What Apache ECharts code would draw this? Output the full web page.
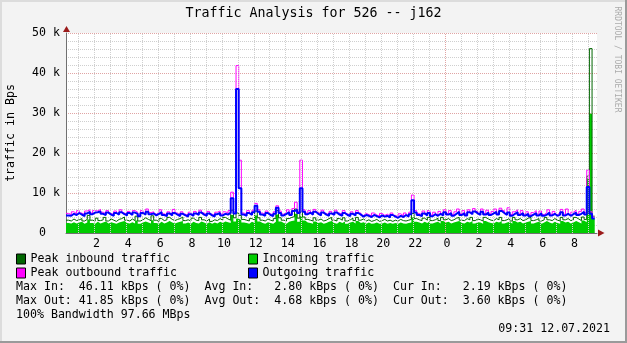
<!DOCTYPE html>
<html><head><meta charset="utf-8">
<script src="https://cdn.jsdelivr.net/npm/echarts@6/dist/echarts.min.js"></script>
<style>html,body{margin:0;padding:0;background:#f3f3f3}#c{width:627px;height:343px}</style>
</head><body><div id="c"></div>
<script>
// time axis in hours since midnight of day 1; one sample every 10 minutes
const startHour = 0.22;
const stepHour = 1 / 6;

// values in kBps
const incoming = [
2.5,2.4,2.7,2.4,2.6,2.8,2.3,2.6,3.4,2.5,2.3,2.8,2.4,2.6,2.9,2.4,2.7,2.5,2.3,2.6,
2.8,3.0,2.5,2.4,2.7,2.4,3.1,2.3,2.6,2.9,2.6,2.4,3.2,2.5,2.3,2.8,2.4,2.6,3.0,2.6,
2.4,2.6,2.8,3.0,2.4,2.6,2.3,2.8,2.5,2.4,2.9,2.6,2.3,2.7,2.3,2.6,2.4,2.8,2.5,2.9,
2.7,2.5,4.5,2.9,3.6,3.2,2.6,2.5,2.3,2.8,2.5,4.4,2.9,2.5,2.3,2.7,2.5,2.3,2.8,4.6,
2.9,2.5,2.3,2.8,3.0,3.1,4.8,2.8,4.2,3.1,2.6,2.5,2.3,2.9,2.5,2.7,2.3,2.5,2.8,3.0,
2.5,2.3,2.8,2.5,2.9,2.3,2.6,2.8,2.4,3.0,2.5,2.7,2.3,2.6,2.3,2.4,2.6,2.3,2.4,2.6,
2.3,2.5,2.3,2.5,2.3,2.6,2.4,2.3,2.5,2.6,3.9,2.8,2.6,2.4,2.8,2.5,3.0,2.4,2.6,2.8,
2.4,3.0,2.6,2.8,2.4,2.6,2.8,3.0,2.5,2.4,2.8,2.6,3.0,2.4,2.7,2.6,2.3,3.0,2.7,2.5,
2.4,2.8,2.6,3.0,2.4,2.6,2.8,2.3,3.0,2.6,2.8,2.4,2.6,2.8,3.0,2.4,2.6,2.8,2.3,2.6,
3.0,2.6,2.4,2.8,2.5,2.3,3.0,2.6,2.8,2.4,2.6,3.0,2.7,2.4,3.1,2.7,13.6,29.8,3.6
];
const peakIn = [
3.2,3.0,3.5,3.1,3.3,3.6,3.0,3.4,4.4,3.2,3.0,3.7,3.1,3.3,3.9,3.0,3.5,3.2,2.9,3.4,
3.6,4.0,3.2,3.0,3.5,3.1,4.2,3.0,3.3,3.8,3.4,3.1,4.3,3.2,2.9,3.6,3.1,3.3,3.9,3.4,
3.1,3.4,3.6,4.0,3.1,3.3,3.0,3.7,3.2,3.1,3.9,3.3,3.0,3.5,2.9,3.3,3.1,3.6,3.2,3.9,
3.5,3.2,5.7,3.8,5.0,4.4,3.4,3.2,3.0,3.6,3.2,5.5,3.8,3.2,3.0,3.5,3.2,3.0,3.6,5.6,
3.8,3.2,3.0,3.6,3.9,4.1,6.0,3.7,5.2,4.0,3.4,3.2,3.0,3.8,3.2,3.5,3.0,3.2,3.6,3.9,
3.2,3.0,3.6,3.2,3.8,3.0,3.3,3.7,3.1,3.9,3.2,3.5,3.0,3.3,2.9,3.1,3.4,2.9,3.1,3.4,
3.0,3.2,2.9,3.2,3.0,3.4,3.1,3.0,3.2,3.4,4.9,3.6,3.3,3.1,3.7,3.2,3.9,3.1,3.3,3.7,
3.1,3.9,3.3,3.6,3.1,3.3,3.7,3.9,3.2,3.1,3.6,3.3,3.9,3.1,3.5,3.3,3.0,3.9,3.5,3.2,
3.1,3.6,3.3,3.9,3.1,3.3,3.7,3.0,3.9,3.3,3.6,3.1,3.3,3.7,3.9,3.1,3.3,3.6,3.0,3.3,
3.9,3.3,3.1,3.6,3.2,3.0,3.9,3.3,3.6,3.1,3.3,3.9,3.5,3.1,4.0,3.4,14.2,46.1,4.2
];
const outgoing = [
4.4,4.3,4.8,4.5,5.0,4.6,4.2,4.9,5.3,4.7,5.1,5.2,5.4,4.8,4.5,5.1,4.6,4.3,5.0,4.6,
5.2,4.7,4.4,5.0,4.5,5.1,4.8,4.2,5.0,4.6,5.3,4.7,4.9,4.4,4.8,5.2,4.5,4.2,4.9,4.4,
5.0,4.6,4.2,4.8,4.4,4.1,4.7,4.3,4.9,4.5,5.1,4.6,4.3,4.9,4.4,4.1,4.7,5.0,4.4,4.8,
4.6,5.1,8.7,4.9,36.0,11.2,4.6,4.3,5.0,4.5,5.2,6.8,5.3,4.6,4.3,5.0,4.5,4.2,4.8,6.3,
5.0,4.4,4.8,5.2,4.5,5.5,5.8,5.0,11.2,5.3,4.7,5.1,4.6,5.3,4.8,4.4,5.1,4.6,4.3,4.9,
4.5,5.1,4.6,4.3,5.0,4.5,4.2,4.8,4.4,5.0,4.6,4.1,4.5,4.3,4.0,4.5,4.2,3.9,4.4,4.1,
4.3,3.9,4.5,4.1,3.8,4.3,4.0,4.5,4.1,4.7,8.2,5.1,4.5,4.2,4.9,4.4,5.0,4.2,4.7,4.3,
4.8,4.4,5.2,4.6,5.0,4.3,4.8,5.3,4.5,5.0,4.4,5.2,4.7,5.4,4.9,4.5,5.3,4.6,5.1,4.5,
4.9,5.3,4.6,5.5,5.0,4.5,5.1,4.3,4.8,5.2,4.5,5.0,4.4,4.8,4.2,4.6,5.0,4.4,4.9,4.3,
4.6,5.1,4.4,4.8,4.3,4.6,5.2,4.4,4.8,4.3,4.7,5.1,4.5,4.8,5.3,4.6,11.5,4.8,3.6
];
const peakOut = [
4.9,4.6,5.3,4.8,5.6,5.0,4.5,5.5,5.8,5.0,5.6,5.5,5.9,5.2,4.8,5.6,4.9,4.6,5.5,4.9,
5.8,5.0,4.7,5.4,4.8,5.6,5.2,4.5,5.6,4.9,6.0,5.1,5.3,4.7,5.2,5.8,4.8,4.5,5.3,4.7,
5.9,5.0,4.5,5.3,4.7,4.4,5.2,4.6,5.4,4.8,5.7,5.0,4.6,5.4,4.7,4.4,5.2,5.5,4.7,5.3,
5.0,5.6,10.2,5.3,41.85,18.2,5.0,4.6,5.6,4.8,5.7,7.4,5.8,5.0,4.6,5.5,4.8,4.5,5.3,6.8,
5.5,4.7,5.2,5.8,4.8,6.1,7.7,5.4,18.2,5.8,5.0,5.6,4.9,5.9,5.2,4.7,5.7,4.9,4.6,5.4,
4.8,5.7,5.0,4.6,5.6,4.8,4.5,5.3,4.7,5.6,5.0,4.4,4.9,4.6,4.3,5.0,4.5,4.2,4.9,4.4,
4.7,4.2,5.0,4.4,4.1,4.8,4.3,5.0,4.4,5.2,9.5,5.6,4.9,4.5,5.5,4.7,5.6,4.5,5.2,4.6,
5.4,4.7,5.8,4.9,5.6,4.6,5.3,6.0,4.8,5.6,4.7,5.8,5.1,6.1,5.4,4.8,6.0,4.9,5.7,4.8,
5.4,6.0,4.9,6.2,5.6,4.8,6.3,4.6,5.3,5.8,4.8,5.6,4.7,5.3,4.5,5.1,5.6,4.7,5.5,4.6,
5.1,5.8,4.7,5.4,4.6,5.1,5.9,4.7,6.0,4.6,5.2,5.7,4.8,5.4,6.0,5.1,15.7,5.3,4.0
];

const hourLabels = [2,4,6,8,10,12,14,16,18,20,22,24,26,28,30,32];
const gridHours = [1,2,3,4,5,6,7,8,9,10,11,12,13,14,15,16,17,18,19,20,21,22,23,24,25,26,27,28,29,30,31,32,33];
const statLines = [
  'Max In:  46.11 kBps ( 0%)  Avg In:   2.80 kBps ( 0%)  Cur In:   2.19 kBps ( 0%)',
  'Max Out: 41.85 kBps ( 0%)  Avg Out:  4.68 kBps ( 0%)  Cur Out:  3.60 kBps ( 0%)',
  '100% Bandwidth 97.66 MBps'
];
const stamp = '09:31 12.07.2021';

const MONO = 'DejaVu Sans Mono';
function toPairs(arr) {
  const out = arr.map((v, i) => [startHour + i * stepHour, v]);
  out.push([startHour + arr.length * stepHour, arr[arr.length - 1]]);
  return out;
}
const MINOR = '#cfcfcf', MAJOR = '#e0a4a4';

const chart = echarts.init(document.getElementById('c'), null, {renderer: 'canvas'});
const graphics = [
  {type:'rect', shape:{x:0,y:0,width:627,height:2}, style:{fill:'#dcdcdc'}, silent:true},
  {type:'rect', shape:{x:0,y:0,width:2,height:343}, style:{fill:'#dcdcdc'}, silent:true},
  {type:'rect', shape:{x:625,y:0,width:2,height:343}, style:{fill:'#9a9a9a'}, silent:true},
  {type:'rect', shape:{x:0,y:341,width:627,height:2}, style:{fill:'#9a9a9a'}, silent:true},
  {type:'polygon', shape:{points:[[63,32],[66.5,26],[70,32]]}, style:{fill:'#9b1b1b'}, z:100},
  {type:'polygon', shape:{points:[[598,229.5],[604.5,233],[598,236.5]]}, style:{fill:'#9b1b1b'}, z:100},
  {type:'text', x:617, y:59.5, rotation:-Math.PI/2,
   style:{text:'RRDTOOL / TOBI OETIKER', fontFamily:MONO, fontSize:8, fill:'#ababab', align:'center', verticalAlign:'middle'}},
  {type:'text', x:610, y:329, style:{text:stamp, fontFamily:MONO, fontSize:11.6, fill:'#000', align:'right', verticalAlign:'middle'}}
];
statLines.forEach((t, i) => graphics.push({type:'text', x:16, y:287 + i * 14,
  style:{text:t, fontFamily:MONO, fontSize:11.6, fill:'#000', align:'left', verticalAlign:'middle'}}));

const legendBase = {
  orient:'vertical', top:252, icon:'rect', itemWidth:9, itemHeight:10, itemGap:0, padding:0,
  selectedMode:false,
  itemStyle:{borderColor:'#000', borderWidth:1},
  textStyle:{fontFamily:MONO, fontSize:11.6, color:'#000', lineHeight:14}
};

chart.setOption({
  animation:false,
  backgroundColor:'#f3f3f3',
  title:{text:'Traffic Analysis for 526 -- j162', left:'center', top:2,
    textStyle:{fontFamily:MONO, fontSize:13.3, fontWeight:'normal', color:'#000'}},
  legend:[
    Object.assign({}, legendBase, {left:16, data:['Peak inbound traffic','Peak outbound traffic']}),
    Object.assign({}, legendBase, {left:248, data:['Incoming traffic','Outgoing traffic']})
  ],
  grid:{left:66, top:33, width:531, height:200, backgroundColor:'#fff', show:true, borderWidth:0,
    containLabel:false, outerBoundsMode:'none'},
  xAxis:{type:'value', min:startHour, max:33.53,
    axisLine:{lineStyle:{color:'#707070', width:1}},
    axisTick:{show:false}, splitLine:{show:false},
    axisLabel:{customValues:hourLabels, formatter:v => String(v % 24), fontFamily:MONO, fontSize:11.6, color:'#000', margin:5, padding:[0,0,0,4]}},
  yAxis:{type:'value', min:0, max:50, interval:2,
    name:'traffic in Bps', nameLocation:'middle', nameGap:49,
    nameTextStyle:{fontFamily:MONO, fontSize:11.6, color:'#000'},
    axisLine:{show:true, lineStyle:{color:'#707070', width:1}},
    axisTick:{show:false},
    axisLabel:{formatter:v => v % 10 === 0 ? (v === 0 ? '0  ' : v + ' k') : '', fontFamily:MONO, fontSize:11.6, color:'#000', margin:6, padding:[3,0,0,0]},
    splitLine:{show:true, lineStyle:{color:[MAJOR, MINOR, MINOR, MINOR, MINOR], type:[1,1], width:1}}},
  graphic:graphics,
  series:[
    {name:'vgrid', type:'line', data:[], z:1, silent:true,
     markLine:{silent:true, symbol:['none','none'], label:{show:false}, animation:false,
       data:gridHours.map(h => ({xAxis:h, lineStyle:{color: h % 24 === 0 ? MAJOR : MINOR, type:[1,1], width:1}}))}},
    {name:'Incoming traffic', type:'line', step:'end', data:toPairs(incoming), showSymbol:false, z:2,
     itemStyle:{color:'#00cc00'}, lineStyle:{width:0, color:'#00cc00'}, areaStyle:{color:'#00cc00', opacity:1}},
    {name:'Peak inbound traffic', type:'line', step:'end', data:toPairs(peakIn), showSymbol:false, z:3,
     itemStyle:{color:'#006600'}, lineStyle:{width:1, color:'#006600'}},
    {name:'Peak outbound traffic', type:'line', step:'end', data:toPairs(peakOut), showSymbol:false, z:4,
     itemStyle:{color:'#ff00ff'}, lineStyle:{width:1, color:'#ff00ff'}},
    {name:'Outgoing traffic', type:'line', step:'end', data:toPairs(outgoing), showSymbol:false, z:5,
     itemStyle:{color:'#0000ff'}, lineStyle:{width:2, color:'#0000ff'}}
  ]
});
</script></body></html>
